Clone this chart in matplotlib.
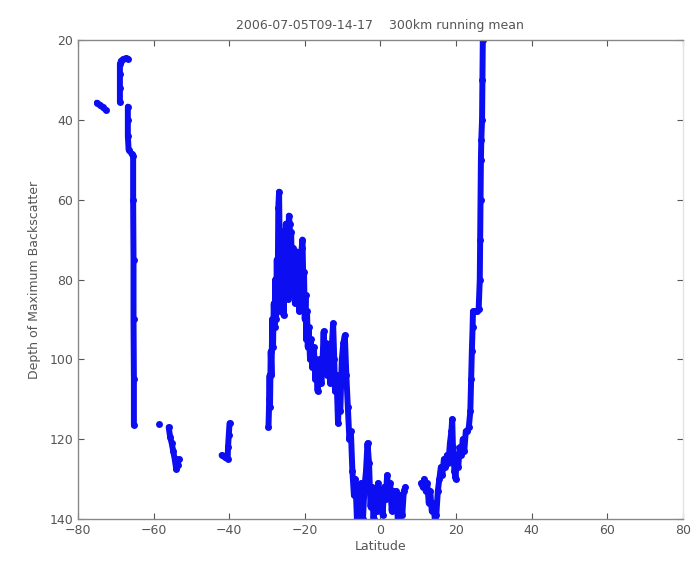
import numpy as np
import matplotlib.pyplot as plt

nan = np.nan

# latitude / depth of max backscatter, NaN marks gaps in the track
lat = [
    -75.0, -74.2, -73.4, -72.7, nan,
    -68.9, -68.9, -68.9, -68.9, -68.6, -68.0, -67.4, -66.8, nan,
    -66.8, -66.8, -66.8, -66.6, -65.8, -65.4, -65.4, -65.3, -65.3, -65.2, -65.2, nan,
    -58.5, nan,
    -56.0, -55.6, -55.2, -54.8, -54.4, -54.0, -53.6, -53.4, nan,
    -42.0, -41.2, -40.4, -40.3, -40.1, -39.9, nan,
    -29.6, -29.4, -29.3, -29.2, -29.0, -28.8, -28.6, -28.4, -28.2, -28.0,
    -27.8, -27.6, -27.4, -27.2, -27.0, -26.8, -26.6, -26.4, -26.2, -26.0,
    -25.8, -25.6, -25.4, -25.2, -25.0, -24.8, -24.6, -24.4, -24.2, -24.0,
    -23.8, -23.6, -23.4, -23.2, -23.0, -22.8, -22.6, -22.4, -22.2, -22.0,
    -21.8, -21.6, -21.4, -21.2, -21.0, -20.8, -20.6, -20.4, -20.2, -20.0,
    -19.8, -19.6, -19.4, -19.2, -19.0, -18.6, -18.4, -18.0, -17.6, -17.2,
    -17.0, -16.6, -16.4, -16.0, -15.6, -15.2, -15.0, -14.8, -14.4, -14.0,
    -13.6, -13.2, -12.8, -12.5, -12.2, -12.0, -11.6, -11.2, -11.0, -10.6,
    -10.2, -9.8, -9.4, -9.0, -8.6, -8.2, -7.8, -7.4, -7.0, -6.6,
    -6.2, -5.8, -5.4, -5.0, -4.6, -4.2, -3.8, -3.4, -3.0, -2.6,
    -2.2, -1.8, -1.4, -1.0, -0.6, -0.2, 0.2, 0.6, 1.0, 1.4,
    1.8, 2.2, 2.6, 3.0, 3.4, 3.8, 4.2, 4.6, 5.0, 5.4,
    5.8, 6.2, 6.6, nan,
    10.8, 11.2, 11.6, 12.0, 12.4, 12.8, 13.2, 13.6, 14.0, 14.4,
    14.8, 15.2, 15.6, 16.0, 16.4, 16.8, 17.2, 17.6, 18.0, 18.4,
    18.8, 19.0, 19.2, 19.6, 19.9, 20.2, 20.6, 21.0, 21.4, 21.8,
    22.2, 22.6, 23.0, 23.4, 23.8, 24.0, 24.2, 24.4, 24.5, 25.0,
    25.6, 26.0, 26.3, 26.4, 26.5, 26.6, 26.7, 26.9, 27.0, 27.1,
]
depth = [
    35.7, 36.3, 36.9, 37.5, nan,
    35.5, 32.0, 28.5, 26.0, 25.2, 24.8, 24.6, 24.7, nan,
    36.7, 40.0, 44.0, 47.5, 48.5, 49.0, 60.0, 75.0, 90.0, 105.0, 116.5, nan,
    116.3, nan,
    117.0, 119.5, 121.0, 123.0, 125.0, 127.5, 126.5, 125.0, nan,
    124.0, 124.5, 125.0, 122.0, 119.0, 116.0, nan,
    117, 110, 104, 112, 98, 104, 90, 97, 86, 92,
    80, 90, 75, 88, 62, 58, 75, 88, 70, 84,
    68, 89, 72, 82, 66, 78, 70, 85, 64, 66,
    75, 68, 80, 72, 84, 74, 86, 76, 82, 73,
    85, 77, 88, 79, 84, 72, 70, 80, 78, 90,
    84, 95, 88, 97, 92, 100, 95, 102, 97, 105,
    100, 108, 103, 100, 106, 98, 93, 100, 96, 104,
    99, 106, 96, 91, 100, 108, 104, 116, 110, 113,
    100, 96, 94, 104, 112, 120, 118, 128, 134, 130,
    140, 133, 138, 131, 140, 132, 128, 121, 126, 137,
    132, 140, 134, 138, 131, 137, 133, 139, 132, 135,
    129, 134, 131, 138, 133, 136, 133, 140, 138, 134,
    139, 133, 132, nan,
    131, 132, 130, 133, 131, 136, 133, 138, 136, 140,
    139, 133, 130, 127, 129, 125, 127, 124, 126, 121,
    118, 115, 122, 128, 130, 124, 127, 122, 124, 120,
    123, 118, 118, 117, 113, 105, 98, 92, 88, 88,
    88, 87.5, 80, 70, 60, 50, 45, 40, 30, 20,
]

gray = '#555555'
fig = plt.figure(figsize=(6.96, 5.71), dpi=100)
ax = fig.add_axes([0.112, 0.091, 0.869, 0.839])

ax.plot(lat, depth, color='#0d0df2', linestyle='-', linewidth=4.3,
        marker='o', markersize=5, markeredgewidth=0,
        solid_joinstyle='round', solid_capstyle='round')

ax.set_xlim(-80, 80)
ax.set_ylim(140, 20)
ax.set_xticks(range(-80, 81, 20))
ax.set_yticks(range(20, 141, 20))
ax.tick_params(direction='in', length=4, colors=gray, labelsize=9,
               top=True, right=True, labelcolor=gray)
for s in ax.spines.values():
    s.set_color('#888888')
    s.set_linewidth(1.0)
ax.spines['right'].set_color('#e4e4e4')

ax.set_xlabel('Latitude', color=gray, fontsize=9, labelpad=2)
ax.set_ylabel('Depth of Maximum Backscatter', color=gray, fontsize=9, labelpad=6)
ax.set_title('2006-07-05T09-14-17    300km running mean', color=gray, fontsize=9, pad=8)

fig.savefig('out.png', dpi=100)
